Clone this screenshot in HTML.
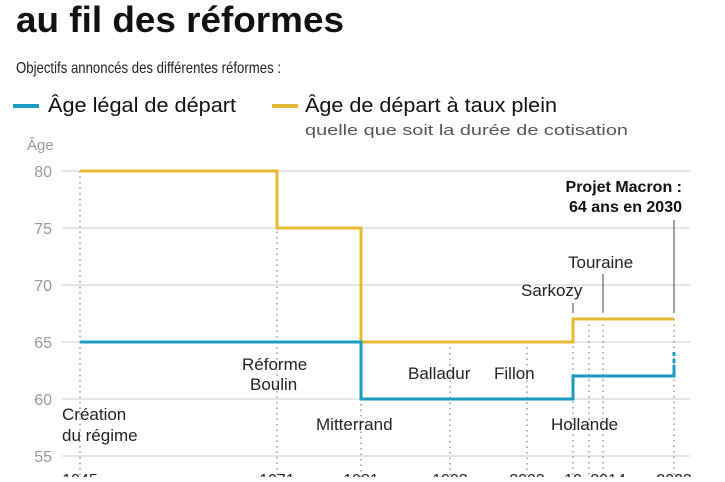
<!DOCTYPE html>
<html><head><meta charset="utf-8"><style>
body{margin:0;width:725px;height:477px;overflow:hidden;background:#fff;font-family:"Liberation Sans",sans-serif;}
</style></head><body>
<svg width="725" height="477" xmlns="http://www.w3.org/2000/svg" font-family="Liberation Sans, sans-serif">
<text x="16" y="32" font-size="36" font-weight="bold" fill="#111" textLength="328" lengthAdjust="spacingAndGlyphs">au fil des réformes</text>
<text x="16" y="73" font-size="16" fill="#222" textLength="265" lengthAdjust="spacingAndGlyphs">Objectifs annoncés des différentes réformes :</text>
<rect x="13" y="104" width="26" height="4" fill="#1a9bbf"/>
<text x="48" y="112" font-size="20" fill="#111" textLength="188" lengthAdjust="spacingAndGlyphs">Âge légal de départ</text>
<rect x="272" y="104" width="26" height="4" fill="#e6b830"/>
<text x="305" y="112" font-size="20" fill="#111" textLength="252" lengthAdjust="spacingAndGlyphs">Âge de départ à taux plein</text>
<text x="305" y="135" font-size="15" fill="#555" textLength="323" lengthAdjust="spacingAndGlyphs">quelle que soit la durée de cotisation</text>
<text x="27" y="150" font-size="15" fill="#999">Âge</text>
<g stroke="#ddd" stroke-width="1.5">
<line x1="62" y1="171" x2="690" y2="171"/><line x1="62" y1="228" x2="690" y2="228"/><line x1="62" y1="285" x2="690" y2="285"/><line x1="62" y1="342" x2="690" y2="342"/><line x1="62" y1="399" x2="690" y2="399"/><line x1="62" y1="456" x2="690" y2="456"/>
</g>
<g font-size="16" fill="#999" text-anchor="end">
<text x="52" y="177">80</text><text x="52" y="234">75</text><text x="52" y="291">70</text><text x="52" y="348">65</text><text x="52" y="405">60</text><text x="52" y="462">55</text>
</g>
<g stroke="#666" stroke-width="1" stroke-dasharray="1.5,4">
<line x1="80" y1="171" x2="80" y2="477"/><line x1="277" y1="171" x2="277" y2="477"/><line x1="361" y1="228" x2="361" y2="477"/><line x1="450" y1="342" x2="450" y2="477"/><line x1="527" y1="342" x2="527" y2="477"/><line x1="573" y1="319" x2="573" y2="477"/><line x1="589" y1="319" x2="589" y2="477"/><line x1="603" y1="319" x2="603" y2="477"/><line x1="674" y1="319" x2="674" y2="477"/>
</g>
<g stroke="#444" stroke-width="1">
<line x1="573" y1="303" x2="573" y2="313"/><line x1="603" y1="274" x2="603" y2="313"/><line x1="674" y1="220" x2="674" y2="313"/>
</g>
<polyline fill="none" stroke="#e6b830" stroke-width="3" points="80,171 277,171 277,228 361,228 361,342 573,342 573,319 674,319"/>
<polyline fill="none" stroke="#1a9bbf" stroke-width="3" points="80,342 361,342 361,399 573,399 573,376 674,376 674,365"/>
<line x1="674" y1="363" x2="674" y2="351" stroke="#1a9bbf" stroke-width="3" stroke-dasharray="4,3"/>
<g font-size="17" fill="#222">
<text x="242" y="370">Réforme</text><text x="250" y="390">Boulin</text>
<text x="62" y="420">Création</text><text x="62" y="441">du régime</text>
<text x="316" y="430">Mitterrand</text>
<text x="408" y="379">Balladur</text><text x="494" y="379">Fillon</text>
<text x="551" y="430">Hollande</text>
<text x="521" y="296">Sarkozy</text>
<text x="568" y="268">Touraine</text>
</g>
<g font-size="16" font-weight="bold" fill="#111" text-anchor="end">
<text x="682" y="192">Projet Macron :</text><text x="682" y="212">64 ans en 2030</text>
</g>
<g font-size="16" fill="#222" text-anchor="middle">
<text x="80" y="485">1945</text><text x="277" y="485">1971</text><text x="361" y="485">1981</text><text x="450" y="485">1993</text><text x="527" y="485">2003</text><text x="573" y="485">10</text><text x="608" y="485">2014</text><text x="674" y="485">2023</text>
</g>
</svg>
</body></html>
